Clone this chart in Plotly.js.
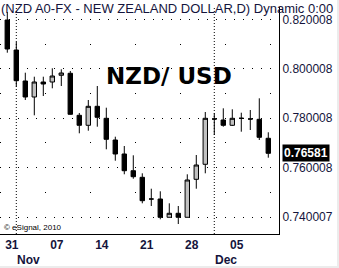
<!DOCTYPE html>
<html>
<head>
<meta charset="utf-8">
<script src="https://cdn.plot.ly/plotly-3.0.1.min.js"></script>
<style>
html,body{margin:0;padding:0;background:#ececec;}
#chart{width:337px;height:266px;background:#fff;}
</style>
</head>
<body>
<div id="chart"></div>
<script>
// ---- data ----
const dates = ["2010-10-29",
  "2010-11-01","2010-11-02","2010-11-03","2010-11-04","2010-11-05",
  "2010-11-08","2010-11-09","2010-11-10","2010-11-11","2010-11-12",
  "2010-11-15","2010-11-16","2010-11-17","2010-11-18","2010-11-19",
  "2010-11-22","2010-11-23","2010-11-24","2010-11-25","2010-11-26",
  "2010-11-29","2010-11-30","2010-12-01","2010-12-02","2010-12-03",
  "2010-12-06","2010-12-07","2010-12-08","2010-12-09"];
const openVals  = [0.81980,0.80765,0.79510,0.78862,0.79469,0.79469,0.79741,0.79822,0.78120,0.77715,
                   0.78485,0.77999,0.77120,0.76553,0.75876,0.75609,0.74730,0.74730,0.73989,0.74151,
                   0.73989,0.75528,0.76136,0.77970,0.77930,0.77715,0.77999,0.77970,0.77958,0.77189];
const highVals  = [0.82305,0.81089,0.79846,0.79684,0.79684,0.80024,0.79984,0.79915,0.78214,0.78740,
                   0.79307,0.78428,0.77254,0.76877,0.76500,0.75771,0.75147,0.75042,0.74556,0.74446,
                   0.75730,0.76512,0.78254,0.78201,0.78404,0.78363,0.78226,0.78335,0.78809,0.77432];
const lowVals   = [0.80656,0.79279,0.78740,0.78120,0.78902,0.79214,0.79307,0.78150,0.77391,0.77497,
                   0.77659,0.76743,0.76281,0.75731,0.75552,0.74556,0.74446,0.73908,0.73989,0.73717,
                   0.73989,0.75147,0.75771,0.77322,0.77659,0.77687,0.77456,0.77525,0.77120,0.76403];
const closeVals = [0.80806,0.79522,0.78862,0.79469,0.79388,0.79712,0.79834,0.78161,0.77715,0.78485,
                   0.78039,0.77148,0.76553,0.75876,0.75633,0.74661,0.74730,0.73989,0.74151,0.73989,
                   0.75500,0.76107,0.77999,0.77970,0.77715,0.77999,0.77999,0.77970,0.77229,0.76581];
const yTickVals  = [0.740007,0.760008,0.780008,0.800008,0.820008];
const yTickText  = ["0.740007","0.760008","0.780008","0.800008","0.820008"];
const yMinorVals = [0.750008,0.770008,0.790008,0.810008];
const monthNames = ["Jan","Feb","Mar","Apr","May","Jun","Jul","Aug","Sep","Oct","Nov","Dec"];
const chartTitle = "(NZD A0-FX - NEW ZEALAND DOLLAR,D) Dynamic 0:00";
const bigLabel = "NZD/ USD";
const copyright = "\u00a9 eSignal, 2010";

// ---- derived positions ----
const xs = dates.map((d,i)=>i);
const parsed = dates.map(d=>new Date(d+"T00:00:00Z"));
const tickPos = [], tickTxt = [];
const monthStarts = [];
for (let i=1;i<parsed.length;i++){
  const gapDays = (parsed[i]-parsed[i-1])/86400000;
  if (gapDays>1){
    const sun = new Date(parsed[i].getTime()-86400000);
    tickPos.push(i-0.5);
    tickTxt.push(String(sun.getUTCDate()).padStart(2,"0"));
  }
  if (parsed[i].getUTCMonth()!==parsed[i-1].getUTCMonth()){
    monthStarts.push({i:i, name:monthNames[parsed[i].getUTCMonth()]});
  }
}

const textColor = "#14143c";
const fontFam = "Liberation Sans, Arial, sans-serif";

const trace = {
  type:"candlestick",
  x: xs, open: openVals, high: highVals, low: lowVals, close: closeVals,
  increasing:{line:{color:"#000",width:1}, fillcolor:"#c0c0c0"},
  decreasing:{line:{color:"#000",width:1}, fillcolor:"#000"},
  whiskerwidth:0,
  hoverinfo:"skip",
  showlegend:false
};

const shapes = monthStarts.map(m=>({
  type:"line", xref:"x", yref:"paper", x0:m.i, x1:m.i, y0:0, y1:1,
  line:{color:"#000", width:1, dash:"1px,2px"}, layer:"below"
}));

const annotations = [
  {text:chartTitle, xref:"paper", yref:"paper", x:0, y:1.0308, xanchor:"left", yanchor:"top",
   showarrow:false, borderpad:0, font:{family:fontFam, size:13, color:textColor}},
  {text:bigLabel, xref:"paper", yref:"paper", x:0.607, y:0.696, xanchor:"center", yanchor:"middle",
   showarrow:false, font:{family:"DejaVu Sans, sans-serif", size:23, color:"#000", weight:"bold"}},
  {text:copyright, xref:"paper", yref:"paper", x:0.008, y:0.027, xanchor:"left", yanchor:"middle",
   showarrow:false, font:{family:fontFam, size:8, color:"#000"}},
  {text:String(closeVals[closeVals.length-1].toFixed(5)), xref:"paper", yref:"y", x:1, xshift:3,
   y:closeVals[closeVals.length-1], xanchor:"left", yanchor:"middle", showarrow:false,
   bgcolor:"#000", borderpad:1, font:{family:fontFam, size:12, color:"#fff", weight:"bold"}}
];
monthStarts.forEach(m=>{
  annotations.push({text:m.name, xref:"x", yref:"paper", x:m.i, y:-0.115, xanchor:"left", yanchor:"middle",
    xshift:-1, showarrow:false, font:{family:fontFam, size:12, color:textColor, weight:"bold"}});
});

const layout = {
  width:337, height:266,
  margin:{l:0, r:58, t:7, b:32, pad:0},
  paper_bgcolor:"#fff", plot_bgcolor:"#fff",
  showlegend:false,
  xaxis:{
    range:[-0.811, 30.19], type:"linear",
    tickmode:"array", tickvals:tickPos, ticktext:tickTxt,
    ticks:"", showgrid:false, zeroline:false,
    showline:true, linecolor:"#000", linewidth:1,
    tickfont:{family:fontFam, size:12, color:textColor, weight:"bold"},
    rangeslider:{visible:false}, fixedrange:true
  },
  yaxis:{
    range:[0.733123, 0.825071], side:"right",
    tickmode:"array", tickvals:yTickVals, ticktext:yTickText,
    ticks:"", zeroline:false,
    showline:true, linecolor:"#000", linewidth:1,
    showgrid:true, gridcolor:"#000", gridwidth:1, griddash:"1px,8px",
    minor:{tickmode:"array", tickvals:yMinorVals, showgrid:true, gridcolor:"#000", gridwidth:1, griddash:"1px,44px", ticks:""},
    tickfont:{family:fontFam, size:12, color:textColor},
    fixedrange:true
  },
  shapes:shapes,
  annotations:annotations
};

Plotly.newPlot("chart",[trace],layout,{displayModeBar:false, staticPlot:true});
</script>
</body>
</html>
